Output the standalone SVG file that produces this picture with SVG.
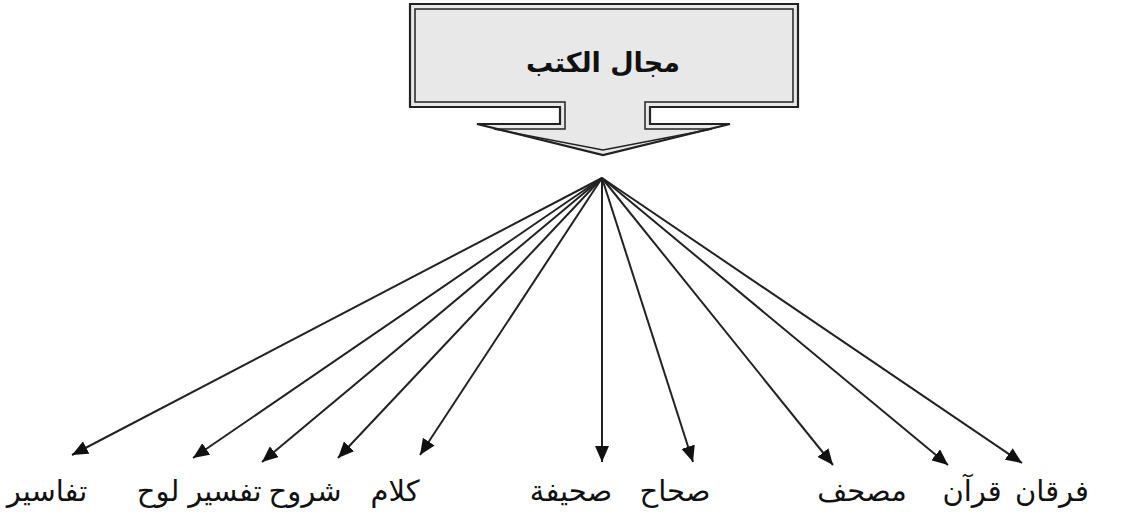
<svg xmlns="http://www.w3.org/2000/svg" width="1139" height="517" viewBox="0 0 1139 517">
<style>
.word{font-family:"DejaVu Sans",sans-serif;font-size:29px;fill:#111111;text-anchor:middle}
.title{font-family:"DejaVu Sans",sans-serif;font-size:27px;font-weight:bold;fill:#111111;text-anchor:middle}
.conn{stroke:#222222;stroke-width:2;fill:none;marker-end:url(#ah)}
</style>
<defs>
<marker id="ah" markerUnits="userSpaceOnUse" markerWidth="18" markerHeight="14" refX="16" refY="7" orient="auto">
<path d="M0,0 L16,7 L0,14 Z" fill="#111111"/>
</marker>
</defs>
<rect width="1139" height="517" fill="#ffffff"/>
<g id="header">
<path d="M410,4 H798 V107 H650 V124 H730 L603,155 L477,124 H560 V107 H410 Z" fill="#e8e8e8" stroke="#222222" stroke-width="2.2"/>
<path d="M415,9 H793 V102 H645 V129 H712 L603,150 L494,129 H565 V102 H415 Z" fill="none" stroke="#222222" stroke-width="1.5"/>
<text class="title" x="603" y="72">مجال الكتب</text>
</g>
<g id="connectors">
<line class="conn" x1="602" y1="178" x2="72" y2="455"/>
<line class="conn" x1="602" y1="178" x2="193" y2="458"/>
<line class="conn" x1="602" y1="178" x2="262" y2="462"/>
<line class="conn" x1="602" y1="178" x2="338" y2="458"/>
<line class="conn" x1="602" y1="178" x2="420" y2="455"/>
<line class="conn" x1="602" y1="178" x2="602" y2="462"/>
<line class="conn" x1="602" y1="178" x2="693" y2="462"/>
<line class="conn" x1="602" y1="178" x2="833" y2="465"/>
<line class="conn" x1="602" y1="178" x2="948" y2="465"/>
<line class="conn" x1="602" y1="178" x2="1022" y2="463"/>
</g>
<g id="n-tafasir"><text class="word" x="47" y="501">تفاسير</text></g>
<g id="n-lawh"><text class="word" x="158" y="501">لوح</text></g>
<g id="n-tafsir"><text class="word" x="225" y="501">تفسير</text></g>
<g id="n-shuruh"><text class="word" x="305" y="501">شروح</text></g>
<g id="n-kalam"><text class="word" x="395" y="501">كلام</text></g>
<g id="n-sahifa"><text class="word" x="571" y="501">صحيفة</text></g>
<g id="n-sihah"><text class="word" x="675" y="501">صحاح</text></g>
<g id="n-mushaf"><text class="word" x="862" y="501">مصحف</text></g>
<g id="n-quran"><text class="word" x="972" y="501">قرآن</text></g>
<g id="n-furqan"><text class="word" x="1052" y="501">فرقان</text></g>
</svg>
